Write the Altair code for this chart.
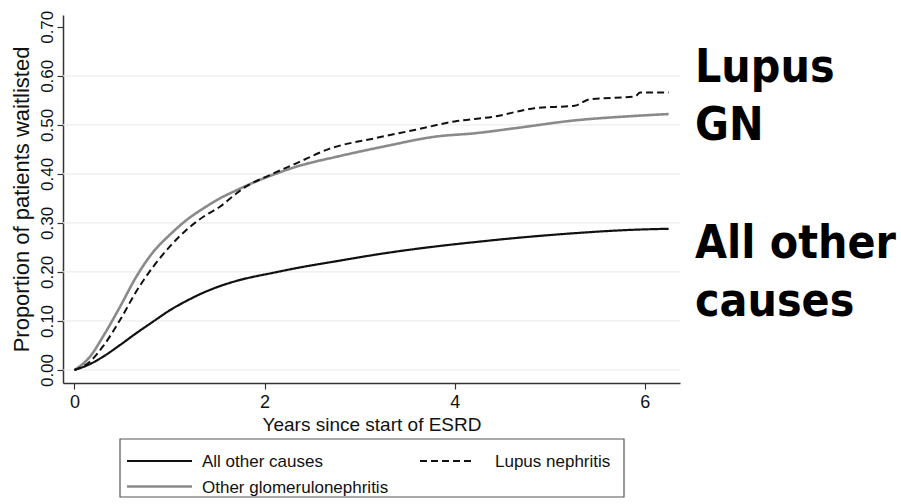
import altair as alt
import pandas as pd

# Cumulative proportion waitlisted by years since ESRD onset
years_all_other = [0, 0.163, 0.30, 0.48, 0.65, 0.83, 1.005, 1.18, 1.36, 1.53, 1.71, 1.88,
                   2.06, 2.34, 2.76, 3.26, 3.80, 4.22, 4.63, 5.26, 5.88, 6.25]
prop_all_other = [0, 0.012, 0.027, 0.051, 0.075, 0.099, 0.122, 0.141, 0.158, 0.171, 0.182, 0.190,
                  0.197, 0.208, 0.222, 0.238, 0.252, 0.261, 0.269, 0.279, 0.286, 0.288]

years_other_gn = [0, 0.163, 0.30, 0.48, 0.65, 0.83, 1.005, 1.18, 1.36, 1.53, 1.71, 1.88,
                  2.06, 2.34, 2.76, 3.26, 3.80, 4.22, 4.63, 5.26, 5.88, 6.25]
prop_other_gn = [0, 0.027, 0.068, 0.129, 0.190, 0.241, 0.276, 0.306, 0.330, 0.350, 0.367, 0.382,
                 0.396, 0.415, 0.435, 0.456, 0.476, 0.483, 0.493, 0.509, 0.518, 0.522]

years_lupus = [0, 0.163, 0.30, 0.48, 0.65, 0.83, 1.005, 1.18, 1.36, 1.53, 1.71, 1.78,
               2.06, 2.34, 2.68, 3.17, 3.59, 4.00, 4.42, 4.84, 5.26, 5.42, 5.90, 5.95, 6.25]
prop_lupus = [0, 0.017, 0.048, 0.102, 0.160, 0.211, 0.252, 0.286, 0.313, 0.333, 0.361, 0.371,
              0.398, 0.422, 0.451, 0.473, 0.490, 0.507, 0.517, 0.534, 0.539, 0.552, 0.558, 0.566, 0.566]

groups = ["All other causes", "Lupus nephritis", "Other glomerulonephritis"]
group_colors = ["#111111", "#111111", "#8a8a8a"]
group_dashes = [[1, 0], [7, 4], [1, 0]]

y_ticks = [0, 0.1, 0.2, 0.3, 0.4, 0.5, 0.6, 0.7]
grid_levels = [0, 0.1, 0.2, 0.3, 0.4, 0.5, 0.6]
x_ticks = [0, 2, 4, 6]

side_labels = ["Lupus", "GN", "All other", "causes"]

FONT = "Liberation Sans"

df = pd.concat([
    pd.DataFrame({"years": years_all_other, "prop": prop_all_other, "group": groups[0]}),
    pd.DataFrame({"years": years_lupus, "prop": prop_lupus, "group": groups[1]}),
    pd.DataFrame({"years": years_other_gn, "prop": prop_other_gn, "group": groups[2]}),
], ignore_index=True)

x_scale = alt.Scale(domain=[-0.12, 6.37], nice=False, zero=False)
y_scale = alt.Scale(domain=[-0.0265, 0.724], nice=False, zero=False)
color_scale = alt.Scale(domain=groups, range=group_colors)
dash_scale = alt.Scale(domain=groups, range=group_dashes)

x_axis = alt.Axis(
    values=x_ticks, title="Years since start of ESRD", grid=False,
    labelFont=FONT, labelFontSize=18, labelColor="#111111", labelPadding=4,
    titleFont=FONT, titleFontSize=19, titleFontWeight="normal", titleColor="#111111",
    titlePadding=4, tickSize=6, tickColor="#333333", domainColor="#333333",
    domainWidth=1.5, tickWidth=1.2,
)
y_axis = alt.Axis(
    values=y_ticks, format=".2f", title="Proportion of patients waitlisted", grid=False,
    labelAngle=270, labelAlign="center", labelBaseline="bottom",
    labelFont=FONT, labelFontSize=17, labelColor="#111111", labelPadding=1,
    titleFont=FONT, titleFontSize=22, titleFontWeight="normal", titleColor="#111111",
    titlePadding=5, tickSize=6, tickColor="#333333", domainColor="#333333",
    domainWidth=1.5, tickWidth=1.2,
)

# light horizontal reference lines (no line at the top tick)
grid = alt.Chart(pd.DataFrame({"level": grid_levels})).mark_rule(
    color="#ececec", strokeWidth=1.2
).encode(
    x=alt.value(0), x2=alt.value(617),
    y=alt.Y("level:Q", scale=y_scale, axis=y_axis),
)


def series_layer(name, width):
    return alt.Chart(df).transform_filter(
        alt.datum.group == name
    ).mark_line(strokeWidth=width, interpolate="monotone").encode(
        x=alt.X("years:Q", scale=x_scale, axis=x_axis),
        y=alt.Y("prop:Q", scale=y_scale, axis=y_axis),
        color=alt.Color("group:N", scale=color_scale, legend=None),
        strokeDash=alt.StrokeDash("group:N", scale=dash_scale, legend=None),
    )


gray_line = series_layer(groups[2], 2.6)
black_line = series_layer(groups[0], 2.2)
dashed_line = series_layer(groups[1], 2.0)

# key below the plot: framed box with line samples and labels
legend_box = alt.Chart(pd.DataFrame({"k": [0]})).mark_rect(
    fill="white", stroke="#555555", strokeWidth=1.2
).encode(
    x=alt.value(57), x2=alt.value(561), y=alt.value(424), y2=alt.value(482)
)


def key_entry(label, color, dash, x0, x1, ypix, width, gap):
    base = alt.Chart(pd.DataFrame({"label": [label]}))
    sample = base.mark_rule(color=color, strokeDash=dash, strokeWidth=width).encode(
        x=alt.value(x0), x2=alt.value(x1), y=alt.value(ypix)
    )
    text = base.mark_text(
        align="left", baseline="middle", font=FONT, fontSize=17, color="#111111"
    ).encode(x=alt.value(x1 + gap), y=alt.value(ypix + 1), text="label:N")
    return sample + text


key_all = key_entry(groups[0], group_colors[0], group_dashes[0], 64, 129, 446, 2.2, 10)
key_lupus = key_entry(groups[1], group_colors[1], group_dashes[1], 357, 410, 446, 2.0, 22)
key_gn = key_entry(groups[2], group_colors[2], group_dashes[2], 64, 129, 471.5, 2.6, 10)

side_df = pd.DataFrame({"label": side_labels, "row": [0, 1, 2, 3]})
side_text = alt.Chart(side_df).transform_calculate(
    ypix="[67, 125, 243, 301][datum.row]"
).mark_text(
    align="left", baseline="alphabetic", font="DejaVu Sans Condensed, DejaVu Sans",
    fontSize=46, fontWeight="bold", color="#000000",
).encode(
    x=alt.value(632),
    y=alt.Y("ypix:Q", scale=None, axis=None),
    text="label:N",
)

chart = alt.layer(
    grid, gray_line, black_line, dashed_line, legend_box, key_all, key_lupus, key_gn, side_text
).properties(
    width=617, height=368,
    padding={"left": 63, "top": 15, "right": 221, "bottom": 121},
    autosize=alt.AutoSizeParams(type="none"),
    background="white",
).configure_view(stroke=None)

chart.save("out.html", embed_options={"renderer": "svg", "actions": False})
